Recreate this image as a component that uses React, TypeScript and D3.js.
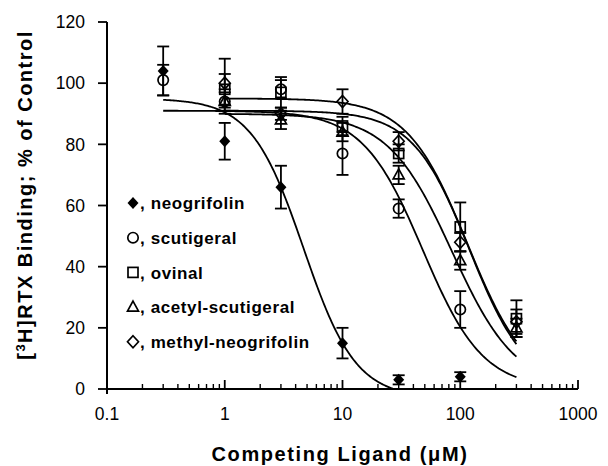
import * as d3 from "d3";

// series names (legend order) and their marker kinds
const seriesNames = ["neogrifolin", "scutigeral", "ovinal", "acetyl-scutigeral", "methyl-neogrifolin"];
const markerKinds = ["diamondFilled", "circle", "square", "triangle", "diamond"];

// concentrations (uM), binding (% of control), error
const neoX = [0.3, 1, 3, 10, 30, 100];
const neoY = [104, 81, 66, 15, 3, 4];
const neoErr = [8, 6, 7, 5, 1.5, 1.5];

const scuX = [0.3, 1, 3, 10, 30, 100];
const scuY = [101, 94, 98, 77, 59, 26];
const scuErr = [5, 4, 3, 7, 3, 6];

const ovX = [1, 3, 10, 30, 100, 300];
const ovY = [98, 97, 86, 77, 53, 23];
const ovErr = [5, 5, 3, 3, 8, 6];

const acX = [1, 3, 10, 30, 100, 300];
const acY = [94, 88, 84, 70, 42, 20];
const acErr = [3, 3, 3, 3, 3, 3];

const meX = [1, 3, 10, 30, 100, 300];
const meY = [100, 90, 94, 81, 48, 22];
const meErr = [8, 2, 4, 3, 3, 4];

// fitted curve parameters (top, bottom, IC50, Hill slope, x range)
const curveTop = [95, 91, 91, 90, 95];
const curveBottom = [-3, 0, 0, 0, 0];
const curveIC50 = [4.67, 48, 120, 85, 115];
const curveHill = [1.96, 1.7, 1.8, 1.6, 1.7];
const curveStart = [0.3, 0.3, 1, 1, 1];
const curveEnd = [30, 300, 300, 300, 300];

const yTicks = [0, 20, 40, 60, 80, 100, 120];
const xTicks = [0.1, 1, 10, 100, 1000];
const xTickLabels = ["0.1", "1", "10", "100", "1000"];

const W = 608;
const H = 466;

const x = d3.scaleLog().domain([0.1, 1000]).range([107, 578]);
const y = d3.scaleLinear().domain([0, 120]).range([389, 22]);

function Marker({ kind, cx, cy }: { kind: string; cx: number; cy: number }) {
  const sw = 1.7;
  if (kind === "diamondFilled") {
    return <path d={`M${cx},${cy - 6}L${cx + 5.5},${cy}L${cx},${cy + 6}L${cx - 5.5},${cy}Z`} fill="#000" />;
  }
  if (kind === "diamond") {
    return <path d={`M${cx},${cy - 6}L${cx + 5.5},${cy}L${cx},${cy + 6}L${cx - 5.5},${cy}Z`} fill="none" stroke="#000" strokeWidth={sw} />;
  }
  if (kind === "circle") {
    return <circle cx={cx} cy={cy} r={5.2} fill="none" stroke="#000" strokeWidth={sw} />;
  }
  if (kind === "square") {
    return <rect x={cx - 5} y={cy - 5} width={10} height={10} fill="none" stroke="#000" strokeWidth={sw} />;
  }
  return <path d={`M${cx},${cy - 6}L${cx + 5.5},${cy + 4}L${cx - 5.5},${cy + 4}Z`} fill="none" stroke="#000" strokeWidth={sw} />;
}

export default function App() {
  const data = [
    { xs: neoX, ys: neoY, es: neoErr },
    { xs: scuX, ys: scuY, es: scuErr },
    { xs: ovX, ys: ovY, es: ovErr },
    { xs: acX, ys: acY, es: acErr },
    { xs: meX, ys: meY, es: meErr },
  ];

  const line = d3.line<[number, number]>()
    .x(d => x(d[0]))
    .y(d => y(Math.max(0, d[1])));

  const curves = seriesNames.map((_, i) => {
    const lo = Math.log10(curveStart[i]);
    const hi = Math.log10(curveEnd[i]);
    const pts: [number, number][] = d3.range(0, 201).map(k => {
      const xv = Math.pow(10, lo + (hi - lo) * k / 200);
      const b = curveBottom[i];
      return [xv, b + (curveTop[i] - b) / (1 + Math.pow(xv / curveIC50[i], curveHill[i]))];
    });
    return line(pts) as string;
  });

  const minor: number[] = [];
  [0.1, 1, 10, 100].forEach(d => d3.range(2, 10).forEach(k => minor.push(d * k)));

  const font = "'Liberation Sans', Arial, Helvetica, sans-serif";

  return (
    <svg width={W} height={H} style={{ position: "absolute", left: 0, top: 0, background: "#fff" }} fontFamily={font}>
      <rect width={W} height={H} fill="#fff" />

      {/* axes */}
      <line x1={x(0.1)} x2={x(0.1)} y1={y(120)} y2={y(0) + 5} stroke="#000" strokeWidth={2} />
      <line x1={x(0.1)} x2={x(1000)} y1={y(0)} y2={y(0)} stroke="#000" strokeWidth={2} />
      {yTicks.map(t => (
        <g key={t}>
          <line x1={x(0.1) - 9} x2={x(0.1)} y1={y(t)} y2={y(t)} stroke="#000" strokeWidth={1.8} />
          <text x={x(0.1) - 22} y={y(t)} dy="0.36em" textAnchor="end" fontSize={17.5}>{t}</text>
        </g>
      ))}
      {xTicks.map((t, i) => (
        <g key={t}>
          <line x1={x(t)} x2={x(t)} y1={y(0)} y2={y(0) - 9} stroke="#000" strokeWidth={1.8} />
          <text x={x(t)} y={420} textAnchor="middle" fontSize={17.5}>{xTickLabels[i]}</text>
        </g>
      ))}
      {minor.map(t => (
        <line key={"m" + t} x1={x(t)} x2={x(t)} y1={y(0)} y2={y(0) - 5} stroke="#000" strokeWidth={1.4} />
      ))}

      {/* fitted curves */}
      {curves.map((d, i) => (
        <path key={"c" + i} d={d} fill="none" stroke="#000" strokeWidth={1.8} />
      ))}

      {/* error bars and markers */}
      {data.map((s, i) => (
        <g key={"s" + i}>
          {s.xs.map((xv, j) => {
            const cx = x(xv);
            const top = y(s.ys[j] + s.es[j]);
            const bot = y(s.ys[j] - s.es[j]);
            return (
              <g key={j}>
                <line x1={cx} x2={cx} y1={top} y2={bot} stroke="#000" strokeWidth={1.8} />
                <line x1={cx - 6} x2={cx + 6} y1={top} y2={top} stroke="#000" strokeWidth={1.8} />
                <line x1={cx - 6} x2={cx + 6} y1={bot} y2={bot} stroke="#000" strokeWidth={1.8} />
                <Marker kind={markerKinds[i]} cx={cx} cy={y(s.ys[j])} />
              </g>
            );
          })}
        </g>
      ))}

      {/* legend */}
      {seriesNames.map((n, i) => {
        const ly = 203 + i * 34.7;
        return (
          <g key={"l" + i}>
            <Marker kind={markerKinds[i]} cx={133} cy={ly} />
            <text x={140} y={ly} dy="0.36em" fontSize={17} fontWeight="bold" letterSpacing={0.6}>{", " + n}</text>
          </g>
        );
      })}

      {/* axis titles */}
      <text x={340} y={461} textAnchor="middle" fontSize={20} fontWeight="bold" letterSpacing={1.6}>
        Competing Ligand (μM)
      </text>
      <text transform={`translate(32, 195) rotate(-90)`} textAnchor="middle" fontSize={20} fontWeight="bold" letterSpacing={1.5}>
        [<tspan dy={-7} fontSize={13}>3</tspan><tspan dy={7}>H]RTX Binding; % of Control</tspan>
      </text>
    </svg>
  );
}
